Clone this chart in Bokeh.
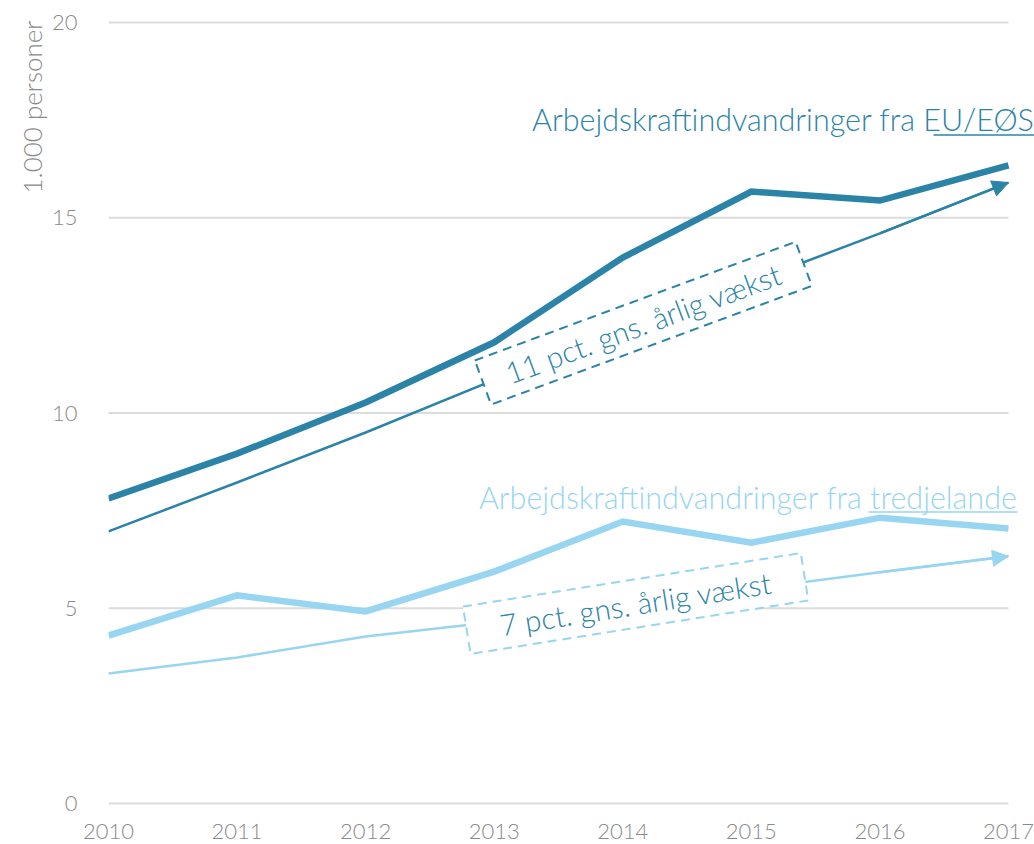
import numpy as np
from bokeh.plotting import figure
from bokeh.models import Range1d, FixedTicker, Arrow, NormalHead, Title
from bokeh.core.properties import value
from bokeh.embed import file_html
from bokeh.resources import INLINE

# ---- data ----
years = [2010, 2011, 2012, 2013, 2014, 2015, 2016, 2017]
eu_eos = [7.81, 8.96, 10.27, 11.81, 13.98, 15.67, 15.44, 16.34]
tredjelande = [4.30, 5.33, 4.92, 5.94, 7.22, 6.68, 7.32, 7.04]
eu_trend = [6.97, 8.22, 9.50, 10.85, 12.10, 13.35, 14.60, 15.90]
tredje_trend = [3.33, 3.74, 4.28, 4.65, 5.08, 5.50, 5.92, 6.33]
y_ticks = [0, 5, 10, 15, 20]
label_eu = ("Arbejdskraftindvandringer fra ", "EU/EØS")
label_tredje = ("Arbejdskraftindvandringer fra ", "tredjelande")
growth_eu = "11 pct. gns. årlig vækst"
growth_tredje = "7 pct. gns. årlig vækst"
y_title = "1.000 personer"

# ---- styles ----
DARK = "#2B84A8"
LIGHT = "#97D5F1"
GRID = "#DCDCDC"
TICK = "#8A8A8A"
FONT = "'Lato Light', Lato, sans-serif"

W, H = 1034, 844
LEFT = 108          # frame left (px)
PXX = 128.571       # px per year
PXY = 39.05         # px per unit
Y0 = 803            # px of y = 0
x_end = years[-1] + (W - LEFT - 7 * PXX) / PXX


def px_to_y(py):
    return (Y0 - py) / PXY


p = figure(width=W, height=H,
           x_range=Range1d(years[0], x_end), y_range=Range1d(-0.05, 20.05),
           output_backend="svg", toolbar_location=None,
           min_border_left=LEFT, min_border_right=0,
           min_border_top=20, min_border_bottom=39)
p.outline_line_color = None
p.background_fill_color = "white"
p.border_fill_color = "white"
p.xgrid.visible = False
p.ygrid.visible = False

for ax in (p.xaxis[0], p.yaxis[0]):
    ax.axis_line_color = None
    ax.major_tick_line_color = None
    ax.minor_tick_line_color = None
    ax.major_label_text_color = TICK
    ax.major_label_text_font = FONT
    ax.major_label_text_font_size = "22px"
p.xaxis.ticker = FixedTicker(ticks=years)
p.yaxis.ticker = FixedTicker(ticks=y_ticks)
p.xaxis.major_label_standoff = 12
p.yaxis.major_label_standoff = 25

# y title at the top-left, reading upwards
p.add_layout(Title(text=y_title, align="right", text_font_size="26px", text_color=TICK,
                   text_font_style="normal", text_font=FONT, standoff=2), "left")

# horizontal gridlines limited to the data span
p.segment(x0=[years[0]] * len(y_ticks), x1=[years[-1]] * len(y_ticks),
          y0=y_ticks, y1=y_ticks, line_color=GRID, line_width=2)

# series lines
p.line(years, eu_eos, line_color=DARK, line_width=6.5, line_join="miter")
p.line(years, tredjelande, line_color=LIGHT, line_width=6.5, line_join="miter")

# trend lines with arrows
p.line(years, eu_trend, line_color=DARK, line_width=2.5)
p.line(years, tredje_trend, line_color=LIGHT, line_width=2.5)
p.add_layout(Arrow(end=NormalHead(size=16, fill_color=DARK, line_color=DARK, line_width=1),
                   x_start=years[-2], y_start=eu_trend[-2], x_end=years[-1], y_end=eu_trend[-1],
                   line_color=DARK, line_width=2.5))
p.add_layout(Arrow(end=NormalHead(size=16, fill_color=LIGHT, line_color=LIGHT, line_width=1),
                   x_start=years[-2], y_start=tredje_trend[-2], x_end=years[-1], y_end=tredje_trend[-1],
                   line_color=LIGHT, line_width=2.5))


# dashed boxes with growth text, centred on the trend lines
def growth_box(xc, trend, text, angle_deg, box_color, w, h, fs):
    yc = float(np.interp(xc, years, trend))
    a = np.deg2rad(angle_deg)
    p.rect(x=[xc], y=[yc], width=w, height=h, width_units="screen", height_units="screen",
           angle=a, fill_color="white", line_color=box_color, line_width=2, line_dash="9 6")
    p.text(x=[xc], y=[yc], text=[text], angle=a, text_align="center", text_baseline="middle",
           text_font=value(FONT), text_font_size=fs, text_color=DARK)


growth_box(years[4] + 0.16, eu_trend, growth_eu, 20.3, DARK, 342, 47, "29.5px")
growth_box(years[4] + 0.10, tredje_trend, growth_tredje, 9.0, LIGHT, 342, 48, "29.5px")


# series labels with underlined last word
def series_label(x_right, mid_px, ul_px, parts, color, ul_width):
    p.text(x=[x_right], y=[px_to_y(mid_px)], text=["".join(parts)], text_align="right",
           text_baseline="middle", text_font=value(FONT), text_font_size="30.5px",
           text_color=color)
    uy = px_to_y(ul_px)
    p.segment(x0=[x_right - ul_width / PXX], x1=[x_right], y0=[uy], y1=[uy],
              line_color=color, line_width=1.6)


series_label(x_end, 119, 134.5, label_eu, DARK, 101)
series_label(years[-1] + 9 / PXX, 496, 511.5, label_tredje, LIGHT, 149)

open("out.html", "w").write(file_html(p, INLINE))
